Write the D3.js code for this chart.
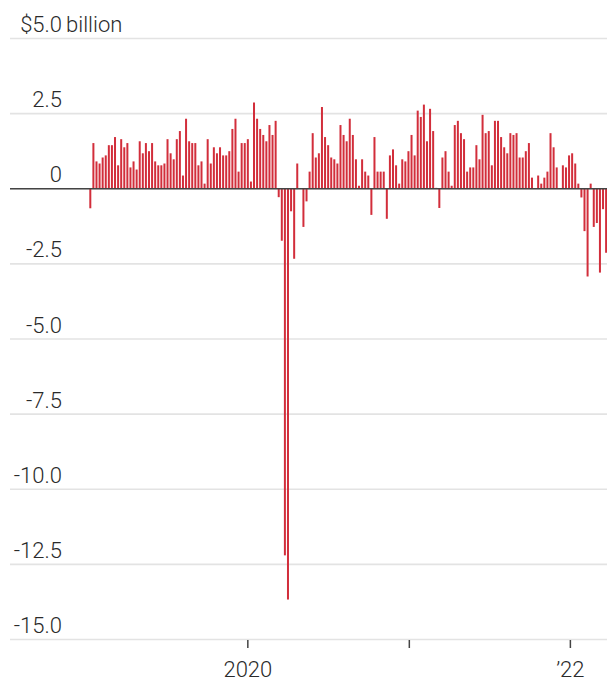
<!DOCTYPE html>
<html>
<head>
<meta charset="utf-8">
<script src="https://cdn.jsdelivr.net/npm/d3@7"></script>
<style>
  html, body { margin: 0; padding: 0; background: #fff; }
  svg { display: block; }
  text { font-family: Roboto, "Open Sans", sans-serif; font-weight: 300; fill: #2a2a2a; }
</style>
</head>
<body>
<svg id="chart" width="607" height="681"></svg>
<script>
// Weekly values, $ billion, starting with the week of 2019-01-09
const startDate = "2019-01-09";
const values = [
  -0.65, 1.52, 0.91, 0.84, 1.04, 1.11, 1.45, 1.45, 1.72, 0.78,
  1.65, 1.38, 1.52, 0.71, 0.91, 0.64, 1.58, 1.18, 1.52, 1.25,
  1.52, 0.91, 0.78, 0.78, 0.84, 1.65, 1.18, 0.98, 1.65, 1.92,
  0.44, 2.33, 1.58, 1.52, 1.52, 0.78, 0.91, 0.17, 1.65, 0.84,
  1.38, 1.18, 1.38, 1.11, 1.11, 1.25, 1.99, 2.33, 0.57, 1.52,
  1.52, 1.65, 0.24, 2.87, 2.33, 1.99, 1.79, 1.58, 2.12, 1.79,
  2.26, -0.28, -1.73, -12.2, -13.67, -0.75, -2.33, 0.84, 0.02, -1.27,
  -0.42, 0.57, 1.85, 1.04, 1.18, 2.72, 1.72, 1.45, 1.04, 0.98,
  0.84, 2.12, 1.79, 1.58, 2.33, 1.79, 0.98, 0.10, 0.98, 0.57,
  0.44, -0.87, 1.72, 0.57, 0.57, 0.57, -1.0, 1.11, 1.31, 0.78,
  0.17, 0.98, 0.91, 1.25, 1.79, 1.11, 2.6, 2.39, 2.8, 1.58,
  2.66, 1.92, 0.03, -0.64, 1.04, 1.25, 0.57, 0.10, 2.12, 2.26,
  1.85, 1.65, 0.57, 0.71, 0.71, 1.45, 0.98, 2.46, 1.85, 1.92,
  0.78, 2.26, 2.26, 1.72, 1.38, 1.18, 1.85, 1.79, 1.85, 1.04,
  1.04, 1.25, 1.52, 0.37, 0.02, 0.44, 0.17, 0.37, 0.57, 1.85,
  1.38, 0.71, 0.02, 0.78, 0.71, 1.11, 1.18, 0.84, 0.17, -0.29,
  -1.41, -2.92, 0.17, -1.27, -1.14, -2.79, -0.68, -2.13
];
const yTicks = [5, 2.5, 0, -2.5, -5, -7.5, -10, -12.5, -15];
const yTickLabels = ["$5.0", "2.5", "0", "-2.5", "-5.0", "-7.5", "-10.0", "-12.5", "-15.0"];
const xTickYears = ["2020-01-01", "2021-01-01", "2022-01-01"];
const xTickLabels = ["2020", "", "\u201922"];

const parse = d3.utcParse("%Y-%m-%d");
const t0 = parse(startDate);
const data = values.map((v, i) => ({ date: d3.utcDay.offset(t0, i * 7), value: v }));

const svg = d3.select("#chart");

const x = d3.scaleUtc()
  .domain([parse("2018-07-11"), parse("2022-03-25")])
  .range([10, 607]);
const y = d3.scaleLinear().domain([-15, 5]).range([639.5, 38.5]);

// gridlines
svg.append("g").selectAll("line").data(yTicks).join("line")
  .attr("x1", 10).attr("x2", 607)
  .attr("y1", d => y(d)).attr("y2", d => y(d))
  .attr("stroke", "#e3e3e3").attr("stroke-width", 1.6);

// y labels
const yl = svg.append("g");
yl.selectAll("text").data(yTicks).join("text")
  .attr("x", 62).attr("y", d => y(d) - 6.5)
  .attr("text-anchor", "end")
  .attr("font-size", 22)
  .text((d, i) => yTickLabels[i]);
yl.append("text")
  .attr("x", 66).attr("y", y(5) - 6.5)
  .attr("font-size", 22)
  .text("billion");

// bars
const bw = 2;
svg.append("g").selectAll("rect").data(data).join("rect")
  .attr("x", d => x(d.date) - bw / 2)
  .attr("width", bw)
  .attr("y", d => y(Math.max(0, d.value)))
  .attr("height", d => Math.abs(y(d.value) - y(0)))
  .attr("fill", "#d22e3b");

// zero line
svg.append("line")
  .attr("x1", 10).attr("x2", 607)
  .attr("y1", y(0)).attr("y2", y(0))
  .attr("stroke", "#444").attr("stroke-width", 1.6);

// x axis ticks & labels
const xt = svg.append("g");
const yearDates = xTickYears.map(parse);
xt.selectAll("line").data(yearDates).join("line")
  .attr("x1", d => x(d)).attr("x2", d => x(d))
  .attr("y1", 640).attr("y2", 648)
  .attr("stroke", "#444").attr("stroke-width", 1.5);
xt.selectAll("text").data(yearDates).join("text")
  .attr("x", d => x(d)).attr("y", 677)
  .attr("text-anchor", "middle")
  .attr("font-size", 22)
  .text((d, i) => xTickLabels[i]);
</script>
</body>
</html>
